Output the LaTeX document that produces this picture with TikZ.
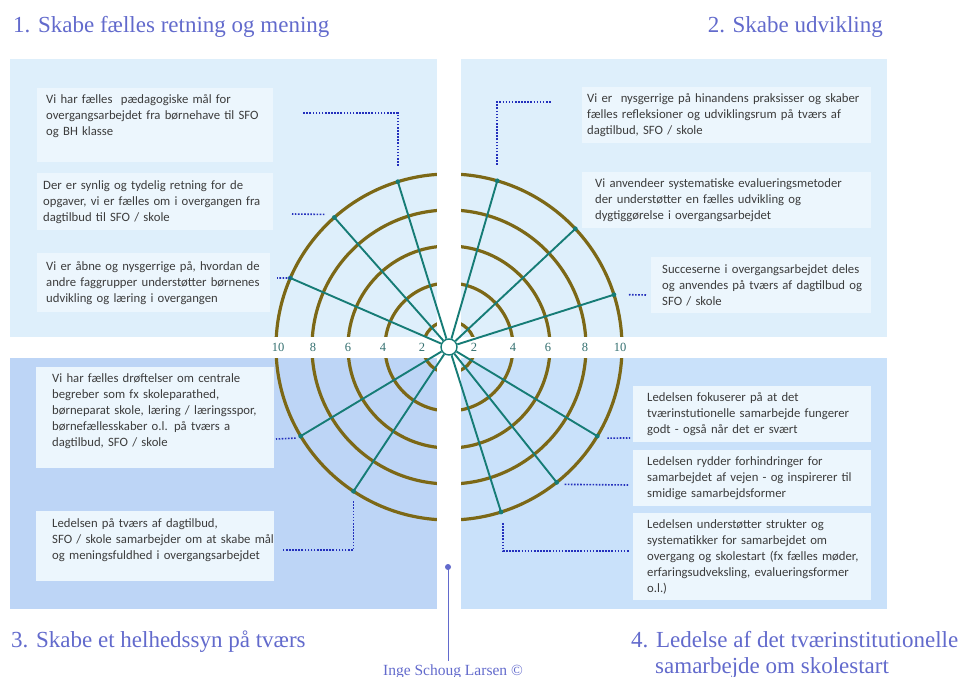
\documentclass[tikz,border=0pt]{standalone}
\usepackage{fontspec}
\setmainfont{Liberation Serif}
\newfontfamily\boxfont{Carlito}
\usepackage{tikz}
\usetikzlibrary{calc}

\definecolor{titleblue}{RGB}{98,106,204}
\definecolor{ringbrown}{RGB}{124,104,22}
\definecolor{spoketeal}{RGB}{22,124,118}
\definecolor{numteal}{RGB}{52,112,112}
\definecolor{dotblue}{RGB}{36,48,188}
\definecolor{toppanel}{HTML}{DEEFFB}
\definecolor{leftpanel}{HTML}{BDD5F6}
\definecolor{rightpanel}{HTML}{C9E1FA}
\definecolor{boxfill}{HTML}{ECF6FD}
\definecolor{textgray}{HTML}{3C3C3C}

\newcommand{\padbelow}[1]{\rule[-#1]{0pt}{1pt}}

\tikzset{
    stmt/.style={fill=boxfill, anchor=north west, align=left, text=textgray,
        font=\boxfont\fontsize{12.7}{16}\selectfont, inner xsep=0pt, inner ysep=2pt,
        execute at begin node={\leftskip=#1}},
    heading/.style={text=titleblue, font=\fontsize{23}{26}\selectfont, inner sep=0pt},
    ring/.style={ringbrown, line width=3.2pt},
    spoke/.style={spoketeal, line width=1.9pt},
    link/.style={dotblue, line width=1.6pt, dash pattern=on 1.6pt off 1.5pt},
    num/.style={numteal, font=\fontsize{12.5}{14}\selectfont, inner sep=0pt}
}

\begin{document}
\begin{tikzpicture}[x=1pt,y=-1pt]
    \useasboundingbox (0,0) rectangle (961,677);
    \fill[toppanel] (10,59) rectangle (437,337);
    \fill[toppanel] (461,59) rectangle (887,337);
    \fill[leftpanel] (10,358) rectangle (437,609);
    \fill[rightpanel] (461,358) rectangle (887,609);

    \node[heading, anchor=base west] (h1) at (13,33) {1. Skabe fælles retning og mening};
    \node[heading, anchor=base east] (h2) at (883,33) {2. Skabe udvikling};
    \node[heading, anchor=base west] (h3) at (11,647) {3. Skabe et helhedssyn på tværs};
    \node[heading, anchor=base west, align=left] (h4) at (631,673) {4. Ledelse af det tværinstitutionelle\\\hspace*{24pt}samarbejde om skolestart};

    \node[stmt=9pt, text width=236pt, minimum height=74pt] (tl1) at (37,88) {Vi har fælles~ pædagogiske mål for\\overgangsarbejdet fra børnehave til SFO\\og BH klasse\padbelow{21pt}};
    \node[stmt=6pt, text width=236pt, minimum height=57pt] (tl2) at (37,173) {Der er synlig og tydelig retning for de\\opgaver, vi er fælles om i overgangen fra\\dagtilbud til SFO / skole};
    \node[stmt=9pt, text width=233pt, minimum height=59pt] (tl3) at (37,253) {Vi er åbne og nysgerrige på, hvordan de\\andre faggrupper understøtter børnenes\\udvikling og læring i overgangen};
    \node[stmt=5pt, text width=289pt, minimum height=56pt] (tr1) at (582,87) {Vi er~ nysgerrige på hinandens praksisser og skaber\\fælles refleksioner og udviklingsrum på tværs af\\dagtilbud, SFO / skole};
    \node[stmt=13pt, text width=289pt, minimum height=56pt] (tr2) at (582,172) {Vi anvendeer systematiske evalueringsmetoder\\der understøtter en fælles udvikling og\\dygtiggørelse i overgangsarbejdet};
    \node[stmt=11pt, text width=220pt, minimum height=56pt] (tr3) at (651,257) {Succeserne i overgangsarbejdet deles\\og anvendes på tværs af dagtilbud og\\SFO / skole};
    \node[stmt=16pt, text width=238pt, minimum height=101pt] (bl1) at (36,367) {Vi har fælles drøftelser om centrale\\begreber som fx skoleparathed,\\børneparat skole, læring / læringsspor,\\børnefællesskaber o.l. på tværs a\\dagtilbud, SFO / skole\padbelow{15pt}};
    \node[stmt=16pt, text width=238pt, minimum height=70pt] (bl2) at (36,511) {Ledelsen på tværs af dagtilbud,\\SFO / skole samarbejder om at skabe mål\\og meningsfuldhed i overgangsarbejdet\padbelow{15pt}};
    \node[stmt=14pt, text width=238pt, minimum height=56pt] (br1) at (633,386) {Ledelsen fokuserer på at det\\tværinstutionelle samarbejde fungerer\\godt - også når det er svært};
    \node[stmt=14pt, text width=238pt, minimum height=56pt] (br2) at (633,450) {Ledelsen rydder forhindringer for\\samarbejdet af vejen - og inspirerer til\\smidige samarbejdsformer};
    \node[stmt=14pt, text width=238pt, minimum height=87pt] (br3) at (633,513) {Ledelsen understøtter strukter og\\systematikker for samarbejdet om\\overgang og skolestart (fx fælles møder,\\erfaringsudveksling, evalueringsformer\\o.l.)};

    \foreach \r in {26,64,101,137,173}
        \draw[ring] (449,347) circle (\r);
    \fill[white] (437,59) rectangle (461,609);
    \fill[white] (10,337) rectangle (887,358);

    \node[circle, draw=spoketeal, line width=1.4pt, fill=white, minimum size=16pt, inner sep=0pt] (c) at (449,347) {};
    \foreach \a [count=\i] in {-107.2,-131.5,-156.5,-73.8,-43.1,-17.6,149,123.5,31,51.5,72.5}{
        \coordinate (s\i) at ($(c)+(\a:173)$);
        \draw[spoke] (c) -- (s\i);
        \fill[spoketeal] (s\i) circle (2.4);
    }

    \foreach \x/\t in {278/10,313/8,348/6,383/4,422/2,474/2,513/4,548/6,585/8,620/10}
        \node[num] (lab\x) at (\x,347) {\t};

    \coordinate (e1) at (303,113);
    \coordinate (e2) at (292,214);
    \coordinate (e3) at (277,278);
    \coordinate (e4) at (552,102);
    \coordinate (e6) at (647,295);
    \coordinate (e7) at (276,439);
    \coordinate (e8) at (282,550);
    \coordinate (e9) at (630,438);
    \coordinate (e10) at (628,485);
    \coordinate (e11) at (629,551);
    \draw[link] ([yshift=16pt]s1) |- (e1);
    \draw[link] ([xshift=-10pt,yshift=3pt]s2) -- (e2);
    \draw[link] (s3) -- (e3);
    \draw[link] ([yshift=16pt]s4) |- (e4);
    \draw[link] ([xshift=15pt]s6) -- (e6);
    \draw[link] ([xshift=-5pt,yshift=-2pt]s7) -- (e7);
    \draw[link] ([yshift=-10pt]s8) |- (e8);
    \draw[link] ([xshift=10pt,yshift=-2pt]s9) -- (e9);
    \draw[link] ([xshift=8pt,yshift=-2pt]s10) -- (e10);
    \draw[link] ([xshift=2pt,yshift=-11pt]s11) |- (e11);

    \node[text=titleblue, font=\fontsize{15.5}{16}\selectfont, anchor=base, inner sep=3pt] (auth) at (453,675) {Inge Schoug Larsen ©};
    \coordinate (pin) at (448,567);
    \fill[titleblue] (pin) circle (3);
    \draw[titleblue, line width=1pt] (pin) -- (pin |- auth.north);
\end{tikzpicture}
\end{document}
